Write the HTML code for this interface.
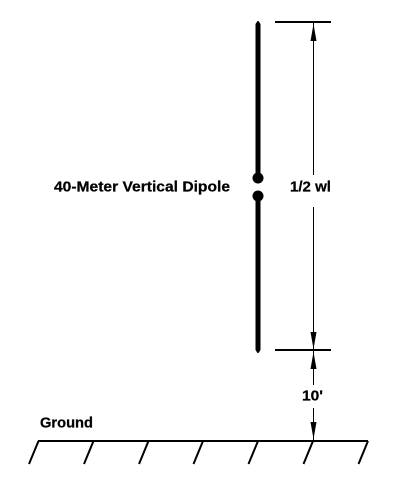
<!DOCTYPE html>
<html>
<head>
<meta charset="utf-8">
<title>40-Meter Vertical Dipole</title>
<style>
html,body{margin:0;padding:0;background:#fff;width:400px;height:480px;overflow:hidden}
svg{display:block}
text{font-family:"Liberation Sans",Arial,sans-serif;font-weight:bold;font-size:14.5px;fill:#000;stroke:#000;stroke-width:0.25px}
</style>
</head>
<body>
<svg width="400" height="480" viewBox="0 0 400 480" xmlns="http://www.w3.org/2000/svg">
  <rect x="0" y="0" width="400" height="480" fill="#fff"/>

  <g>
    <polygon points="255.5,24 257.5,21 258.5,21 260.5,24 260.5,178 255.5,178" fill="#000"/>
    <polygon points="255.5,196 260.5,196 260.5,350 258.5,353 257.5,353 255.5,350" fill="#000"/>
    <circle cx="258" cy="178" r="5.5" fill="#000"/>
    <circle cx="258" cy="196" r="5.5" fill="#000"/>
  </g>

  <text x="54" y="191.5" textLength="176" lengthAdjust="spacingAndGlyphs">40-Meter Vertical Dipole</text>

  <g stroke="#000" fill="none" shape-rendering="crispEdges">
    <line x1="275" y1="22" x2="331" y2="22" stroke-width="2"/>
    <line x1="275" y1="350" x2="331" y2="350" stroke-width="2"/>
    <line x1="313.5" y1="22" x2="313.5" y2="175" stroke-width="1"/>
    <line x1="313.5" y1="207" x2="313.5" y2="350" stroke-width="1"/>
    <line x1="313.5" y1="350" x2="313.5" y2="385" stroke-width="1"/>
    <line x1="313.5" y1="408" x2="313.5" y2="440" stroke-width="1"/>
  </g>

  <g fill="#000">
    <polygon points="313.5,24 316.5,41 310.5,41"/>
    <polygon points="313.5,349 316.5,332 310.5,332"/>
    <polygon points="313.5,352 316.5,369 310.5,369"/>
    <polygon points="313.5,439 316.5,422 310.5,422"/>
  </g>

  <text x="290" y="191.5" textLength="41" lengthAdjust="spacingAndGlyphs">1/2 wl</text>
  <text x="302" y="400.5" textLength="21" lengthAdjust="spacingAndGlyphs">10'</text>
  <text x="40" y="427.5" textLength="53" lengthAdjust="spacingAndGlyphs">Ground</text>

  <g stroke="#000" stroke-width="2" fill="none">
    <line x1="38" y1="441" x2="368" y2="441" stroke-width="2" shape-rendering="crispEdges"/>
    <line x1="38.5" y1="441" x2="29" y2="464"/>
    <line x1="93.5" y1="441" x2="84" y2="464"/>
    <line x1="148.5" y1="441" x2="139" y2="464"/>
    <line x1="203" y1="441" x2="193.5" y2="464"/>
    <line x1="258" y1="441" x2="248.5" y2="464"/>
    <line x1="313" y1="441" x2="303.5" y2="464"/>
    <line x1="368" y1="441" x2="358.5" y2="464"/>
  </g>
</svg>
</body>
</html>
